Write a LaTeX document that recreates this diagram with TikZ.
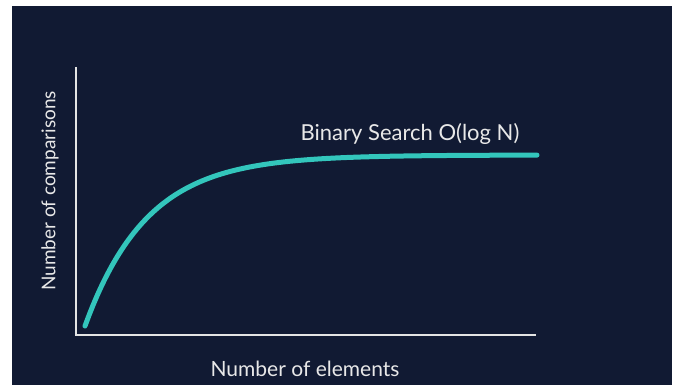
\documentclass[tikz,border=0pt]{standalone}
\usepackage{fontspec}
\setmainfont{Lato}
\usepackage{xcolor}
\usepackage{tikz}
\usetikzlibrary{positioning,calc}
\definecolor{navybg}{HTML}{111A33}
\definecolor{curveteal}{HTML}{33C6BC}
\definecolor{axisgray}{HTML}{E4E4E4}
\definecolor{labelwhite}{HTML}{E8E8E8}

\begin{document}
\begin{tikzpicture}[x=1pt, y=-1pt, every node/.style={font=\fontsize{21}{25}\selectfont, text=labelwhite, inner sep=0pt}]
  \useasboundingbox (0,0) rectangle (677,385);
  \fill[white] (0,0) rectangle (677,385);
  \fill[navybg] (12,6) rectangle (672,385);
  % axes
  \coordinate (origin) at (76,335);
  \coordinate (ytop) at (76,67);
  \coordinate (xend) at (536,335);
  \draw[axisgray, line width=2pt] (ytop) -- (origin) -- (xend);
  % curve
  \draw[curveteal, line width=5pt, line cap=round] plot[domain=85:537, samples=120, smooth] (\x, {326-171*(1-exp(-(\x-85)/62))});
  \node[anchor=base, font=\fontsize{22}{26}\selectfont] (curvelabel) at (410,141) {Binary Search O(log N)};
  \node[rotate=90, font=\fontsize{19}{23}\selectfont] (ylabel) at (50,191) {Number of comparisons};
  \node (xlabel) at (305,369) {Number of elements};
\end{tikzpicture}
\end{document}
